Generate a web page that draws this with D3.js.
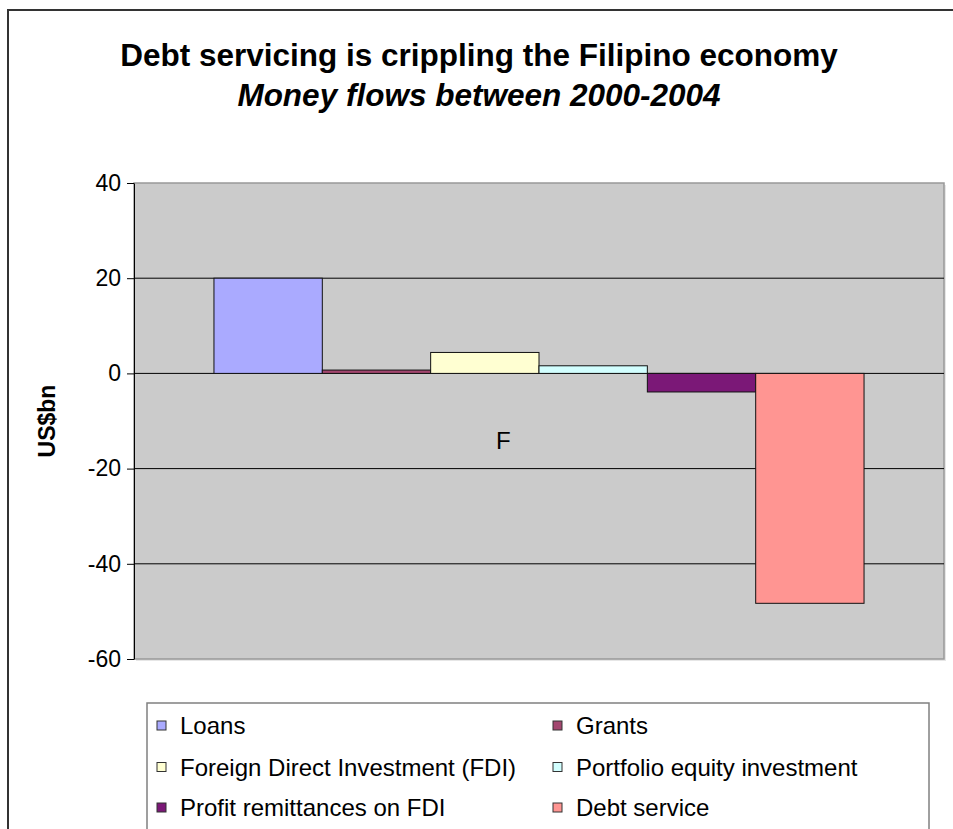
<!DOCTYPE html>
<html>
<head>
<meta charset="utf-8">
<script src="https://cdn.jsdelivr.net/npm/d3@7"></script>
<style>
  html, body { margin: 0; padding: 0; background: #fff; }
  svg { display: block; font-family: Arial, "Liberation Sans", sans-serif; }
</style>
</head>
<body>
<svg id="chart" width="953" height="829"></svg>
<script>
// Net money flows for the Philippines, 2000-2004 (US$ billions)
const categories = ["F"];
const seriesNames = [
  "Loans",
  "Grants",
  "Foreign Direct Investment (FDI)",
  "Portfolio equity investment",
  "Profit remittances on FDI",
  "Debt service"
];
const seriesValues = [20, 0.7, 4.4, 1.6, -3.9, -48.3];
const seriesColors = ["#aaaaff", "#a3466f", "#ffffd2", "#d2ffff", "#7b1877", "#ff9592"];
const yTicks = [-60, -40, -20, 0, 20, 40];

const titleText = "Debt servicing is crippling the Filipino economy";
const subtitleText = "Money flows between 2000-2004";
const yAxisTitle = "US$bn";

const svg = d3.select("#chart");

// outer chart frame
svg.append("rect")
  .attr("x", 8).attr("y", 10)
  .attr("width", 960).attr("height", 840)
  .attr("fill", "#fff")
  .attr("stroke", "#333").attr("stroke-width", 2);

// titles
svg.append("text")
  .attr("x", 479).attr("y", 66)
  .attr("text-anchor", "middle")
  .attr("font-size", 31.5).attr("font-weight", "bold")
  .text(titleText);
svg.append("text")
  .attr("x", 479).attr("y", 106)
  .attr("text-anchor", "middle")
  .attr("font-size", 31.5).attr("font-weight", "bold").attr("font-style", "italic")
  .text(subtitleText);

// plot area
const plot = { left: 134, right: 944, top: 183, bottom: 659 };

const y = d3.scaleLinear().domain([-60, 40]).range([plot.bottom, plot.top]);
const x0 = d3.scaleBand().domain(categories)
  .range([plot.left, plot.right]).paddingInner(0).paddingOuter(0.123);
const x1 = d3.scaleBand().domain(seriesNames)
  .range([0, x0.bandwidth()]).padding(0);
const color = d3.scaleOrdinal().domain(seriesNames).range(seriesColors);

// shadow + background
svg.append("rect")
  .attr("x", plot.left + 2).attr("y", plot.top + 2)
  .attr("width", plot.right - plot.left).attr("height", plot.bottom - plot.top)
  .attr("fill", "#e6e6e6");
svg.append("rect")
  .attr("x", plot.left).attr("y", plot.top)
  .attr("width", plot.right - plot.left).attr("height", plot.bottom - plot.top)
  .attr("fill", "#cbcbcb")
  .attr("stroke", "#999").attr("stroke-width", 1.5);

// gridlines
svg.append("g")
  .selectAll("line")
  .data(yTicks.filter(t => t > -60 && t < 40))
  .join("line")
  .attr("x1", plot.left).attr("x2", plot.right)
  .attr("y1", d => y(d)).attr("y2", d => y(d))
  .attr("stroke", "#000").attr("stroke-width", 1);

// bars
const group = svg.append("g")
  .selectAll("g")
  .data(categories)
  .join("g")
  .attr("transform", d => `translate(${x0(d)},0)`);

group.selectAll("rect")
  .data(seriesNames.map((name, i) => ({ name, value: seriesValues[i] })))
  .join("rect")
  .attr("x", d => x1(d.name))
  .attr("width", x1.bandwidth())
  .attr("y", d => y(Math.max(0, d.value)))
  .attr("height", d => Math.abs(y(d.value) - y(0)))
  .attr("fill", d => color(d.name))
  .attr("stroke", "#111").attr("stroke-width", 1);

// category label
svg.append("text")
  .attr("x", x0(categories[0]) + x0.bandwidth() * 0.445)
  .attr("y", 449)
  .attr("text-anchor", "middle")
  .attr("font-size", 24)
  .text(categories[0]);

// y axis
const yAxis = svg.append("g")
  .attr("transform", `translate(${plot.left},0)`)
  .call(d3.axisLeft(y).tickValues(yTicks).tickFormat(d => String(d))
    .tickSize(7).tickPadding(6).tickSizeOuter(0));
yAxis.select(".domain").attr("stroke", "#000");
yAxis.selectAll(".tick line").attr("stroke", "#000");
yAxis.selectAll(".tick text")
  .attr("font-size", 23)
  .attr("font-family", "Arial, 'Liberation Sans', sans-serif")
  .attr("fill", "#000");

svg.append("text")
  .attr("transform", `translate(55,${(plot.top + plot.bottom) / 2}) rotate(-90)`)
  .attr("text-anchor", "middle")
  .attr("font-size", 23).attr("font-weight", "bold")
  .text(yAxisTitle);

// legend
const legend = { left: 147, right: 929, top: 703 };
svg.append("rect")
  .attr("x", legend.left).attr("y", legend.top)
  .attr("width", legend.right - legend.left).attr("height", 200)
  .attr("fill", "#fff")
  .attr("stroke", "#808080").attr("stroke-width", 1.5);

const colX = [157, 553];
const rowY = [725, 766.5, 807];
const items = svg.append("g")
  .selectAll("g")
  .data(seriesNames)
  .join("g")
  .attr("transform", (d, i) => `translate(${colX[i % 2]},${rowY[Math.floor(i / 2)]})`);
items.append("rect")
  .attr("x", 0).attr("y", -4)
  .attr("width", 9).attr("height", 9)
  .attr("fill", d => color(d))
  .attr("stroke", "#333").attr("stroke-width", 1);
items.append("text")
  .attr("x", 23).attr("y", 9)
  .attr("font-size", 24)
  .text(d => d);
</script>
</body>
</html>
